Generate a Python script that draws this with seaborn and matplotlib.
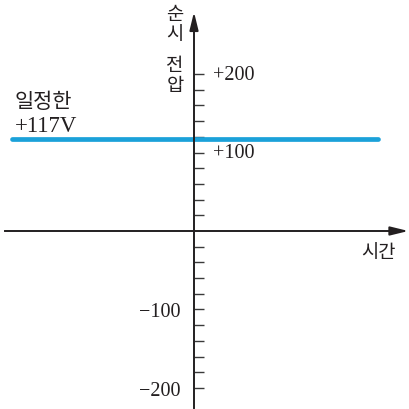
import matplotlib
matplotlib.use("Agg")
import matplotlib.pyplot as plt
import numpy as np
import pandas as pd
import seaborn as sns

# Data
time = [-9.1, 9.2]
voltage = [117, 117]
major_ticks = [-200, -100, 100, 200]
major_labels = ["\u2212200", "\u2212100", "+100", "+200"]
minor_step = 20
line_label_top = "일정한"
line_label_value = "+117V"
y_title_parts = ["순\n시", "전\n압"]
x_title = "시간"

sns.set_theme(style="white")
plt.rcParams["font.family"] = ["Noto Sans CJK KR", "DejaVu Sans"]

AX_COLOR = "#231f20"
BLUE = "#1ba1d9"
SERIF = ["Liberation Serif", "DejaVu Serif"]

fig = plt.figure(figsize=(4.09, 4.09), dpi=100)
ax = fig.add_axes([0, 0, 1, 1])
ax.set_xlim(-9.7, 10.75)
ax.set_ylim(-226.8, 294.3)

df = pd.DataFrame({"time": time, "voltage": voltage})
sns.lineplot(data=df, x="time", y="voltage", color=BLUE, linewidth=3.4,
             ax=ax, legend=False)

# Axes crossing at the origin
for s in ["top", "right"]:
    ax.spines[s].set_visible(False)
ax.spines["left"].set_position(("data", 0))
ax.spines["bottom"].set_position(("data", 0))
ax.spines["left"].set_bounds(-225.5, 270)
ax.spines["bottom"].set_bounds(-9.45, 10.4)
for s in ["left", "bottom"]:
    ax.spines[s].set_color(AX_COLOR)
    ax.spines[s].set_linewidth(1.4)

# Arrow heads
ax.annotate("", xy=(0, 279), xytext=(0, 262),
            arrowprops=dict(arrowstyle="-|>,head_length=0.9,head_width=0.22",
                            color=AX_COLOR, lw=1.4, shrinkA=0, shrinkB=0))
ax.annotate("", xy=(10.72, 0), xytext=(10.2, 0),
            arrowprops=dict(arrowstyle="-|>,head_length=0.9,head_width=0.22",
                            color=AX_COLOR, lw=1.4, shrinkA=0, shrinkB=0))

ax.set_xticks([])
all_ticks = [v for v in range(-200, 201, minor_step) if v != 0]
ax.set_yticks(all_ticks)
ax.set_yticklabels([])
ax.tick_params(axis="y", direction="in", length=7.2, width=1.0,
               color="#3a3a3a", left=True)
ax.set_xlabel("")
ax.set_ylabel("")

# Tick labels
for v, lab in zip(major_ticks, major_labels):
    if v > 0:
        ax.text(0.95, v - 1.5, lab, ha="left", va="center", fontsize=14.5,
                family=SERIF, color=AX_COLOR)
    else:
        ax.text(-0.7, v - 4, lab, ha="right", va="center", fontsize=14.5,
                family=SERIF, color=AX_COLOR)

# Axis titles
ax.text(-0.95, 289, y_title_parts[0], ha="center", va="top", fontsize=13.5,
        color=AX_COLOR, linespacing=0.9)
ax.text(-0.95, 224, y_title_parts[1], ha="center", va="top", fontsize=13.5,
        color=AX_COLOR, linespacing=0.9)
ax.text(9.2, -28, x_title, ha="center", va="center", fontsize=13.5,
        color=AX_COLOR)

# Line annotation
ax.text(-8.95, 164, line_label_top, ha="left", va="center", fontsize=15,
        color=AX_COLOR)
ax.text(-8.95, 133, line_label_value, ha="left", va="center", fontsize=16.5,
        family=SERIF, color=AX_COLOR)

fig.savefig("out.png", dpi=100)
